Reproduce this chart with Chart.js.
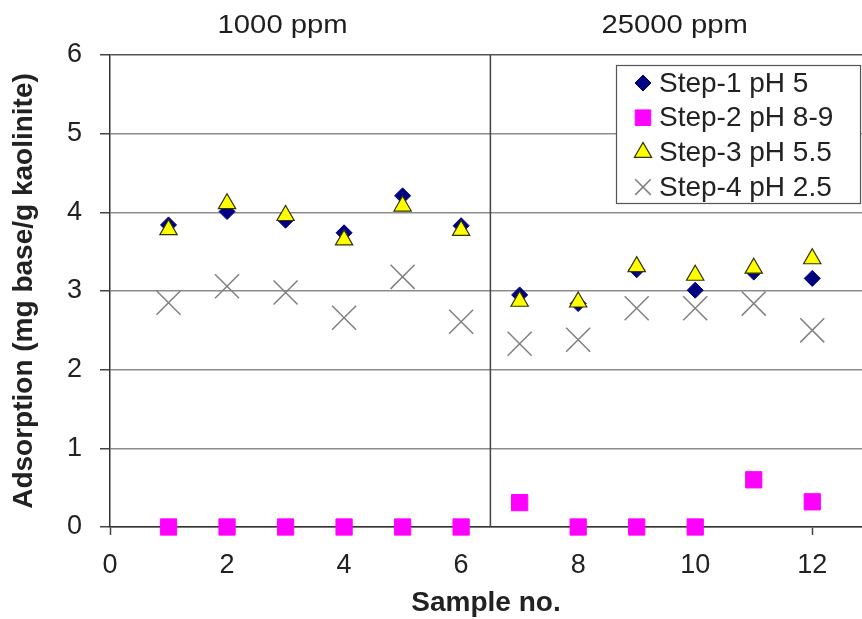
<!DOCTYPE html>
<html>
<head>
<meta charset="utf-8">
<title>Adsorption by sample</title>
<script src="https://cdn.jsdelivr.net/npm/chart.js"></script>
<style>
  html, body { margin: 0; padding: 0; background: #fff; }
  #wrap { width: 862px; height: 619px; position: relative; }
</style>
</head>
<body>
<div id="wrap"><canvas id="adsorptionChart"></canvas></div>
<script>
const samples = [1, 2, 3, 4, 5, 6, 7, 8, 9, 10, 11, 12];
const step1 = [3.84, 4.01, 3.90, 3.74, 4.21, 3.83, 2.95, 2.84, 3.27, 3.01, 3.24, 3.16];
const step2 = [0, 0, 0, 0, 0, 0, 0.31, 0, 0, 0, 0.60, 0.32];
const step3 = [3.78, 4.11, 3.96, 3.65, 4.08, 3.77, 2.87, 2.86, 3.31, 3.20, 3.29, 3.41];
const step4 = [2.85, 3.06, 2.98, 2.66, 3.18, 2.61, 2.33, 2.38, 2.78, 2.78, 2.84, 2.50];
const seriesNames = ['Step-1 pH 5', 'Step-2 pH 8-9', 'Step-3 pH 5.5', 'Step-4 pH 2.5'];
const groupLabels = ['1000 ppm', '25000 ppm'];
const groupCenters = [2.95, 9.65];
const groupSplit = 6.5;
const yTicks = [0, 1, 2, 3, 4, 5, 6];

const FONT = "'Liberation Sans', Arial, sans-serif";
const toPoints = (ys) => samples.map((x, i) => ({ x, y: ys[i] }));

// marker styles shared by the plot and the legend box
const styles = [
    { pointStyle: 'rectRot', radius: 8, backgroundColor: '#000080', borderColor: '#000080', borderWidth: 1 },
    { pointStyle: 'rect', radius: 11.5, backgroundColor: '#ff00ff', borderColor: '#ff00ff', borderWidth: 1 },
    { pointStyle: 'triangle', radius: 10, backgroundColor: '#ffff00', borderColor: '#333300', borderWidth: 1.2 },
    { pointStyle: 'crossRot', radius: 17, backgroundColor: '#808080', borderColor: '#808080', borderWidth: 1.5 },
];
const legendRadius = [8, 11, 10, 11];
const drawOrder = [1, 2, 0, 3];

const datasets = [step1, step2, step3, step4].map((ys, i) => ({
    label: seriesNames[i],
    data: toPoints(ys),
    showLine: false,
    clip: false,
    order: drawOrder[i],
    pointStyle: styles[i].pointStyle,
    pointRadius: styles[i].radius,
    pointBackgroundColor: styles[i].backgroundColor,
    pointBorderColor: styles[i].borderColor,
    pointBorderWidth: styles[i].borderWidth,
}));

// vertical line separating the two concentration groups
datasets.push({
    label: 'split',
    data: [{ x: groupSplit, y: 0 }, { x: groupSplit, y: 6 }],
    showLine: true,
    pointRadius: 0,
    borderColor: '#444',
    borderWidth: 1.5,
    order: 9,
});

const decorations = {
    id: 'decorations',
    afterDraw(chart) {
        const { ctx, chartArea, scales } = chart;

        // group headings above the plot
        ctx.save();
        ctx.fillStyle = '#1e1e1e';
        ctx.font = `25px ${FONT}`;
        ctx.textAlign = 'center';
        ctx.textBaseline = 'alphabetic';
        groupLabels.forEach((text, i) => {
            const cx = scales.x.getPixelForValue(groupCenters[i]);
            ctx.save();
            ctx.translate(cx, 33);
            ctx.scale(1.17, 1);
            ctx.fillText(text, 0, 0);
            ctx.restore();
        });
        ctx.restore();

        // legend box
        const box = { left: chartArea.right - 246, top: chartArea.top + 10, width: 244, height: 138 };
        ctx.save();
        ctx.fillStyle = '#fff';
        ctx.fillRect(box.left, box.top, box.width, box.height);
        ctx.strokeStyle = '#555';
        ctx.lineWidth = 1.2;
        ctx.strokeRect(box.left + 0.5, box.top + 0.5, box.width, box.height);
        ctx.font = `28px ${FONT}`;
        ctx.textBaseline = 'middle';
        ctx.textAlign = 'left';
        seriesNames.forEach((name, i) => {
            const rowY = box.top + 18 + i * 34.7;
            const s = styles[i];
            ctx.fillStyle = s.backgroundColor;
            ctx.strokeStyle = s.borderColor;
            ctx.lineWidth = s.borderWidth;
            Chart.helpers.drawPoint(ctx, {
                pointStyle: s.pointStyle,
                radius: legendRadius[i],
                rotation: 0,
                borderWidth: s.borderWidth,
            }, box.left + 27, rowY);
            ctx.fillStyle = '#222';
            ctx.fillText(name, box.left + 43, rowY + 1);
        });
        ctx.restore();
    }
};

new Chart(document.getElementById('adsorptionChart'), {
    type: 'scatter',
    data: { datasets },
    plugins: [decorations],
    options: {
        responsive: true,
        maintainAspectRatio: false,
        animation: false,
        layout: { autoPadding: false, padding: { top: 55, right: 0, left: 0, bottom: 0 } },
        plugins: {
            legend: { display: false },
            tooltip: { enabled: false },
        },
        scales: {
            x: {
                type: 'linear',
                min: 0,
                max: 12.85,
                afterFit: (scale) => {
                    scale.height = 92;
                    scale.paddingLeft = 0;
                    scale.paddingRight = 0;
                },
                ticks: {
                    stepSize: 2,
                    includeBounds: false,
                    maxRotation: 0,
                    autoSkip: false,
                    padding: 17,
                    color: '#222',
                    font: { family: FONT, size: 27, lineHeight: 1 },
                },
                grid: { drawOnChartArea: false, drawTicks: true, tickLength: 8, tickColor: '#444', tickWidth: 1.5 },
                border: { color: '#333', width: 1.5 },
                title: {
                    display: true,
                    text: 'Sample no.',
                    color: '#222',
                    padding: { top: 0, bottom: 2 },
                    font: { family: FONT, size: 28, weight: 'bold', lineHeight: 1 },
                },
            },
            y: {
                min: 0,
                max: 6,
                afterFit: (scale) => { scale.width = 110; },
                afterBuildTicks: (scale) => { scale.ticks = yTicks.map(v => ({ value: v })); },
                ticks: {
                    padding: 18,
                    color: '#222',
                    font: { family: FONT, size: 27, lineHeight: 1 },
                },
                grid: {
                    color: (c) => c.tick && c.tick.value === 6 ? '#555' : '#8c8c8c',
                    lineWidth: 1.5,
                    tickLength: 10,
                    tickColor: '#444',
                    tickWidth: 1.5,
                },
                border: { color: '#333', width: 1.5 },
                title: {
                    display: true,
                    text: 'Adsorption (mg base/g kaolinite)',
                    color: '#222',
                    padding: { top: 10, bottom: 0 },
                    font: { family: FONT, size: 28, weight: 'bold', lineHeight: 1 },
                },
            },
        },
    },
});
</script>
</body>
</html>
